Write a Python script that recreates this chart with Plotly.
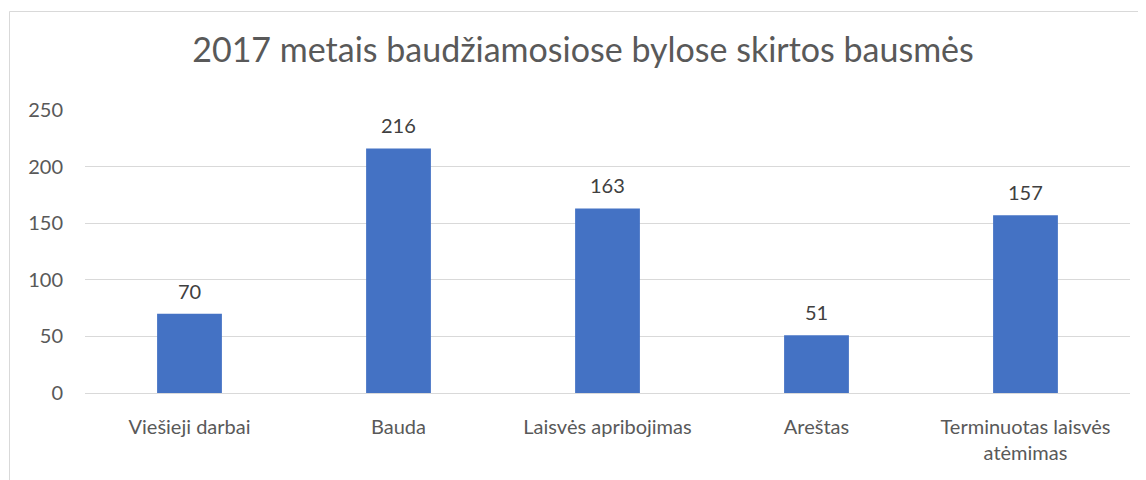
import plotly.graph_objects as go

categories = ["Viešieji darbai", "Bauda", "Laisvės apribojimas", "Areštas", "Terminuotas laisvės<br>atėmimas"]
values = [70, 216, 163, 51, 157]
title_text = "2017 metais baudžiamosiose bylose skirtos bausmės"

FONT = "Lato"
W, H = 1146, 480
OFF = 8  # page body margin
L, R, T, B = 85 - OFF, 24, 110 - OFF, 95
pw = W - L - R
ph = H - T - B

fig = go.Figure()
fig.add_trace(go.Bar(
    x=categories, y=values, marker_color="#4472c4", marker_line_width=0,
    hoverinfo="x+y",
))
for c, v in zip(categories, values):
    fig.add_annotation(x=c, y=v, text=str(v), showarrow=False, yshift=23,
                       font=dict(family=FONT, size=20, color="#404040"))

def px2x(px):
    return (px - OFF - L) / pw
def py2y(py):
    return 1 - (py - OFF - T) / ph

fig.add_shape(type="rect", xref="paper", yref="paper",
              x0=px2x(9.5), x1=px2x(1170), y0=py2y(11.5), y1=py2y(520),
              line=dict(color="#d9d9d9", width=1), fillcolor="rgba(0,0,0,0)", layer="below")

fig.update_layout(
    width=W, height=H,
    margin=dict(l=L, r=R, t=T, b=B, autoexpand=False),
    paper_bgcolor="white", plot_bgcolor="white",
    bargap=0.69,
    showlegend=False,
    title=dict(text=title_text, x=(583 - OFF) / W, xanchor="center", xref="container",
               y=1 - (50 - OFF) / H, yanchor="middle", yref="container",
               font=dict(family=FONT, size=34, color="#595959")),
    font=dict(family=FONT, size=20, color="#595959"),
)
fig.update_yaxes(range=[0, 250], dtick=50, gridcolor="#d9d9d9", gridwidth=1,
                 zeroline=False, showline=False, ticks="", ticklabelstandoff=21,
                 automargin=False,
                 tickfont=dict(family=FONT, size=20, color="#595959"))
fig.update_xaxes(showline=True, linecolor="#d9d9d9", linewidth=1, ticks="",
                 ticklabelstandoff=16, automargin=False,
                 tickfont=dict(family=FONT, size=20, color="#595959"))

fig.write_html("out.html")
